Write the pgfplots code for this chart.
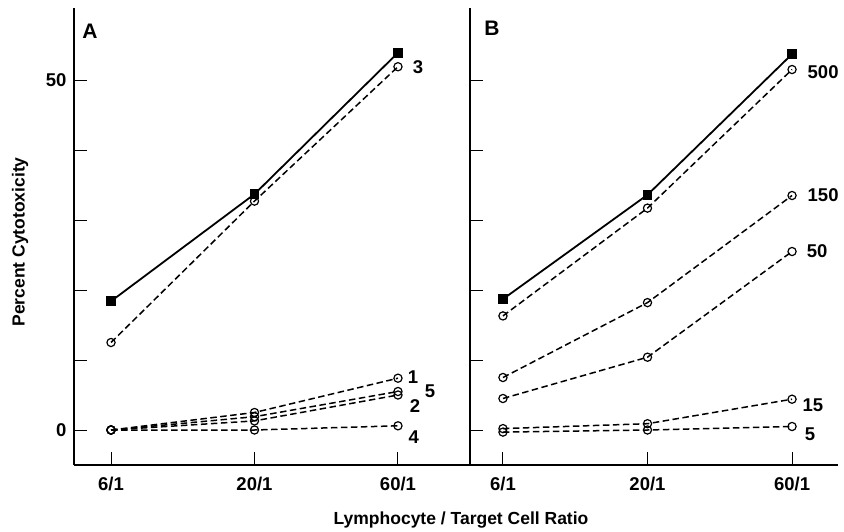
\documentclass[border=0pt]{standalone}
\usepackage{fontspec}
\setmainfont{Liberation Sans}
\usepackage{pgfplots}
\pgfplotsset{compat=1.18}
\begin{document}
\begin{tikzpicture}
\useasboundingbox (0pt,0pt) rectangle (844pt,531pt);
\tikzset{lab/.style={font=\fontsize{18.5}{22}\selectfont\bfseries, inner sep=0pt}}
\pgfplotsset{
 panel/.style={
  scale only axis, height=457pt, ymin=-5, ymax=60.29,
  axis x line=bottom, axis y line=left, axis line style={-, line width=1.6pt},
  ytick={0,10,20,30,40,50},
  xtick={0,1,2}, xticklabels={6/1,20/1,60/1},
  major tick length=13pt, tick style={line width=1pt, black},
  tick align=inside,
  tick label style={font=\fontsize{18.5}{22}\selectfont\bfseries},
  xticklabel style={yshift=-9pt},
  yticklabel style={xshift=-4pt},
  clip=false,
  /pgf/number format/assume math mode=true,
 },
 sq/.style={solid, line width=1.8pt, mark=square*, mark size=4pt, mark options={solid, fill=black}},
 ci/.style={dash pattern=on 6.5pt off 3.5pt, line width=1.5pt, mark=o, mark size=4.1pt, mark options={solid, fill=white, line width=1.2pt}},
}
% Panel A
\begin{axis}[panel, at={(74pt,66pt)}, anchor=south west, width=396pt,
  xmin=-0.258, xmax=2.502, yticklabels={0,,,,,50}]
\addplot[sq] coordinates {(0,18.4) (1,33.7) (2,53.9)};
\addplot[ci] coordinates {(0,12.5) (1,32.7) (2,51.9)};
\addplot[ci] coordinates {(0,0) (1,2.5) (2,7.4)};
\addplot[ci] coordinates {(0,0) (1,1.9) (2,5.5)};
\addplot[ci] coordinates {(0,0) (1,1.3) (2,5.0)};
\addplot[ci] coordinates {(0,0) (1,0) (2,0.6)};
\node[lab] at (axis cs:2.139,51.9) {3};
\node[lab] at (axis cs:2.105,7.6) {1};
\node[lab] at (axis cs:2.223,5.6) {5};
\node[lab] at (axis cs:2.118,3.4) {2};
\node[lab] at (axis cs:2.11,-1.0) {4};
\node[lab, font=\fontsize{21}{25}\selectfont\bfseries] at (axis cs:-0.146,56.9) {A};
\end{axis}
% Panel B
\begin{axis}[panel, at={(470pt,66pt)}, anchor=south west, width=368pt,
  xmin=-0.228, xmax=2.318, yticklabels={}]
\addplot[sq] coordinates {(0,18.7) (1,33.6) (2,53.7)};
\addplot[ci] coordinates {(0,16.3) (1,31.7) (2,51.5)};
\addplot[ci] coordinates {(0,7.5) (1,18.2) (2,33.5)};
\addplot[ci] coordinates {(0,4.5) (1,10.4) (2,25.5)};
\addplot[ci] coordinates {(0,0.2) (1,0.9) (2,4.4)};
\addplot[ci] coordinates {(0,-0.3) (1,0) (2,0.5)};
\node[lab] at (axis cs:2.215,51.1) {500};
\node[lab] at (axis cs:2.215,33.6) {150};
\node[lab] at (axis cs:2.173,25.6) {50};
\node[lab] at (axis cs:2.145,3.6) {15};
\node[lab] at (axis cs:2.125,-0.6) {5};
\node[lab, font=\fontsize{21}{25}\selectfont\bfseries] at (axis cs:-0.076,57.4) {B};
\end{axis}
\node[rotate=90, font=\fontsize{17.5}{21}\selectfont\bfseries, inner sep=0pt] at (20pt,289pt) {Percent Cytotoxicity};
\node[font=\fontsize{17.5}{21}\selectfont\bfseries, inner sep=0pt] at (461pt,11pt) {Lymphocyte / Target Cell Ratio};
\end{tikzpicture}
\end{document}
